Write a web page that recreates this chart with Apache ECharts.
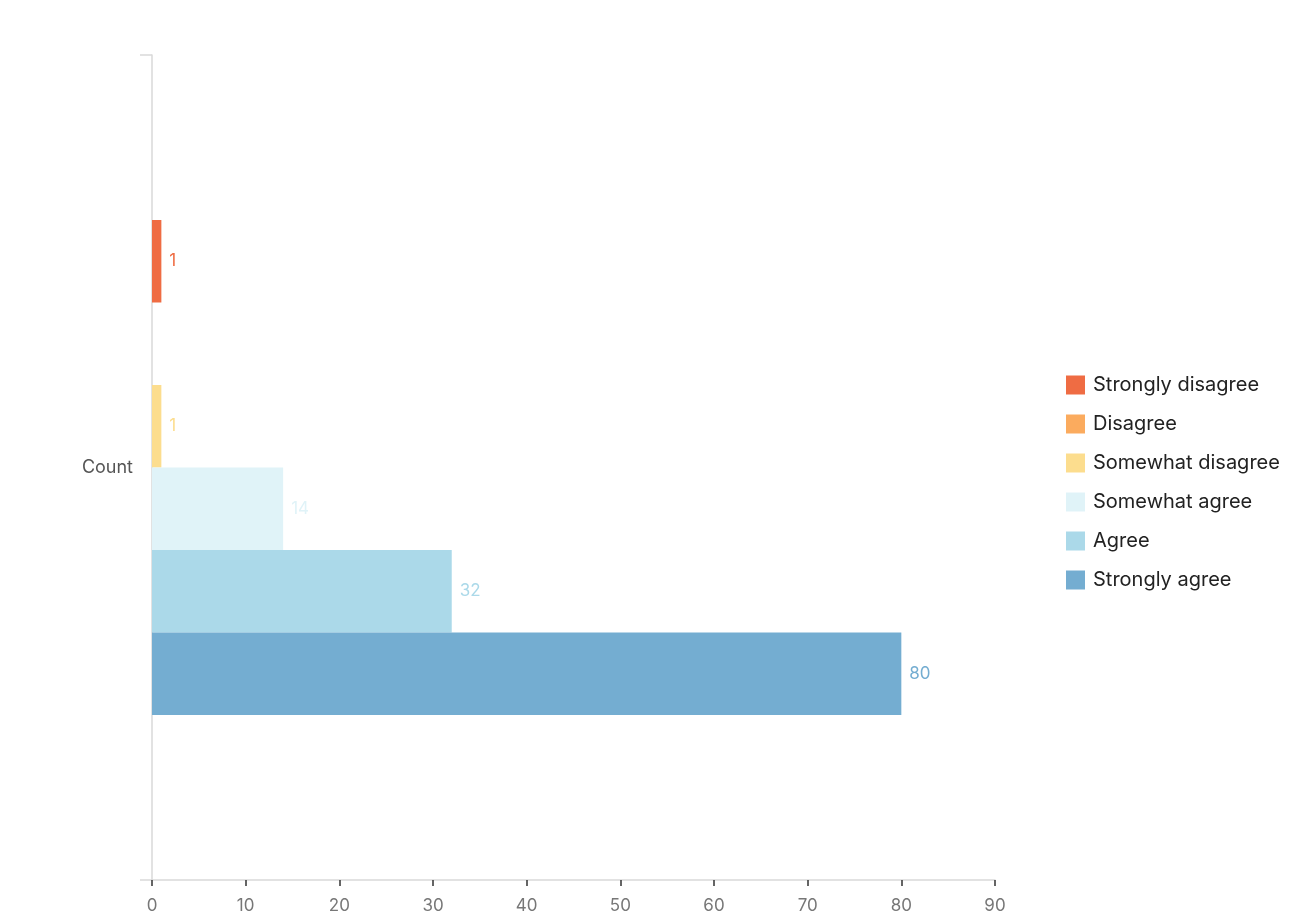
<!DOCTYPE html>
<html>
<head>
<meta charset="utf-8">
<script src="https://cdn.jsdelivr.net/npm/echarts@6/dist/echarts.min.js"></script>
<style>
  html, body { margin: 0; padding: 0; background: #ffffff; }
  #chart { width: 1308px; height: 915px; }
</style>
</head>
<body>
<div id="chart"></div>
<script>
// Survey response counts, one bar per answer option
const categories = ['Count'];
const responseLabels = ['Strongly disagree', 'Disagree', 'Somewhat disagree', 'Somewhat agree', 'Agree', 'Strongly agree'];
const responseCounts = [1, 0, 1, 14, 32, 80];
const responseColors = ['#ef6c43', '#fbab5e', '#fcdd8e', '#e0f3f8', '#abd9e9', '#74add1'];
const xTicks = { min: 0, max: 90, interval: 10 };

const FONT = 'Inter, "Liberation Sans", sans-serif';

const series = responseLabels.map((name, i) => ({
  name: name,
  type: 'bar',
  data: [responseCounts[i]],
  barGap: '0%',
  barCategoryGap: '40%',
  itemStyle: { color: responseColors[i] },
  label: {
    show: true,
    position: 'right',
    distance: 8,
    color: responseColors[i],
    fontFamily: FONT,
    fontSize: 17,
    formatter: p => (p.value ? String(p.value) : '')
  }
}));

const chart = echarts.init(document.getElementById('chart'), null, { renderer: 'canvas' });
chart.setOption({
  animation: false,
  backgroundColor: '#ffffff',
  grid: { left: 152, right: 313, top: 55, bottom: 35, containLabel: false },
  legend: {
    orient: 'vertical',
    left: 1066,
    top: 375,
    padding: 0,
    itemWidth: 19,
    itemHeight: 19,
    itemGap: 19,
    icon: 'rect',
    data: responseLabels,
    textStyle: { fontFamily: FONT, fontSize: 20, color: '#222', padding: [0, 0, 0, 3] }
  },
  xAxis: {
    type: 'value',
    min: xTicks.min,
    max: xTicks.max,
    interval: xTicks.interval,
    splitLine: { show: false },
    axisLine: { show: true, lineStyle: { color: '#d9d9d9', width: 1.5 } },
    axisTick: { show: true, length: 6, lineStyle: { color: '#333', width: 1.5 } },
    axisLabel: { fontFamily: FONT, fontSize: 17, color: '#777', margin: 17 }
  },
  yAxis: {
    type: 'category',
    data: categories,
    inverse: true,
    axisLine: { show: true, lineStyle: { color: '#d9d9d9', width: 1.5 } },
    axisTick: { show: true, length: 12, lineStyle: { color: '#d9d9d9', width: 1.5 } },
    axisLabel: { fontFamily: FONT, fontSize: 18, color: '#555', margin: 19 }
  },
  series: series
});
</script>
</body>
</html>
